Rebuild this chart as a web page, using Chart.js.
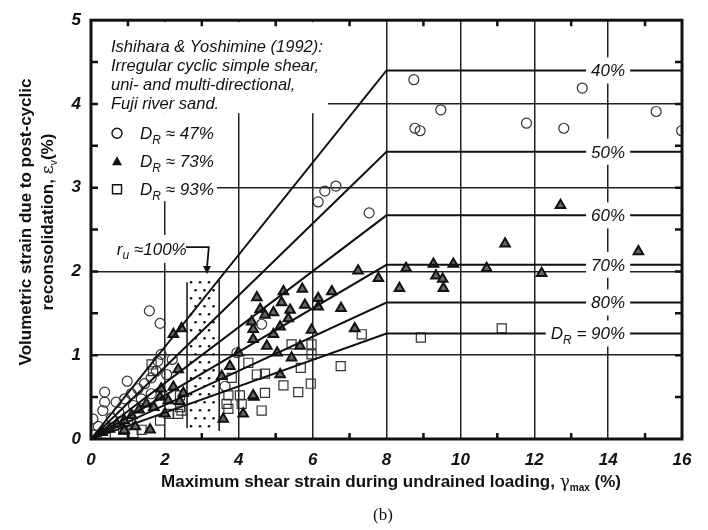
<!DOCTYPE html>
<html>
<head>
<meta charset="utf-8">
<script src="https://cdn.jsdelivr.net/npm/chart.js@4.4.1/dist/chart.umd.min.js"></script>
<style>body{margin:0;background:#fff}</style>
</head>
<body>
<canvas id="strainChart" width="708" height="530"></canvas>
<script>
// ---- data ----
// D_R ~ 47% (open circles)
const dr47 = [
    [8.74,4.29],[9.47,3.93],[8.77,3.71],[8.91,3.68],[11.79,3.77],[12.80,3.71],[13.30,4.19],
    [15.30,3.91],[15.99,3.68],[6.15,2.83],[6.33,2.96],[6.63,3.02],[7.53,2.70],
    [1.58,1.53],[1.87,1.38],[4.62,1.37],[3.63,0.63],[3.95,1.03],
    [0.98,0.69],[0.37,0.56],[0.37,0.44],[0.32,0.34],[0.68,0.44],[0.05,0.24],[1.90,1.01],
    [1.77,0.81],[1.63,0.73],[1.45,0.66],[1.27,0.60],[1.09,0.54],[0.91,0.48],[1.36,0.48],
    [1.63,0.54],[1.81,0.93],[2.05,0.77],[0.20,0.15],[0.55,0.25],[0.75,0.32],[1.15,0.40],
    [2.20,0.95],[0.10,0.05]
];
// D_R ~ 73% (triangles)
const dr73 = [
    [12.71,2.79],[11.21,2.33],[14.82,2.24],[7.23,2.01],[7.78,1.92],[8.53,2.04],[8.35,1.80],
    [9.27,2.09],[9.34,1.95],[9.52,1.91],[9.54,1.80],[9.81,2.09],[10.71,2.04],[12.20,1.98],
    [6.77,1.56],[7.14,1.32],[6.52,1.76],
    [4.49,1.69],[5.21,1.76],[5.72,1.79],[5.16,1.63],[4.58,1.55],[4.71,1.48],[4.94,1.51],
    [5.39,1.54],[5.79,1.60],[6.15,1.68],[6.15,1.58],[5.34,1.44],[5.12,1.34],[4.39,1.31],
    [4.39,1.19],[4.94,1.25],[5.97,1.30],[4.76,1.11],[5.66,1.11],[5.04,1.03],[5.43,0.97],
    [5.12,0.77],[4.41,0.50],[4.35,1.40],[3.99,1.03],[3.76,0.87],[3.54,0.75],[4.39,0.52],
    [4.12,0.30],[3.58,0.24],[2.23,1.25],[2.45,1.32],[2.36,0.83],[2.23,0.62],[2.09,0.46],
    [1.87,0.50],[1.60,0.11],[0.30,0.08],[0.50,0.12],[0.70,0.18],[0.90,0.22],[1.10,0.28],
    [1.30,0.35],[1.50,0.42],[1.70,0.38],[2.00,0.30],[1.20,0.15],[0.90,0.10],[2.50,0.55],
    [2.40,0.45],[1.90,0.60]
];
// D_R ~ 93% (open squares)
const dr93 = [
    [7.33,1.25],[8.93,1.21],[11.12,1.32],[6.76,0.87],[5.43,1.13],[5.97,1.13],[5.97,1.01],
    [4.49,0.77],[4.71,0.78],[5.68,0.85],[5.21,0.64],[5.61,0.56],[5.95,0.66],[4.71,0.55],
    [4.62,0.34],[4.26,0.91],[3.81,0.73],[3.72,0.52],[4.03,0.52],[3.72,0.36],[4.08,0.42],
    [3.67,0.42],[2.41,0.52],[2.45,0.34],[1.64,0.89],[1.68,0.81],[1.87,0.22],[1.37,0.11],
    [1.15,0.07],[0.87,0.11],[2.36,0.30],[2.41,0.38],[0.40,0.05],[1.00,0.20],[2.10,0.30]
];

// design curves: linear to gamma = 8%, then flat
const curveKnee = 8;
const curvePlateau = [4.40, 3.43, 2.67, 2.08, 1.63, 1.26];
const curveNames = ['40%', '50%', '60%', '70%', '80%', '90%'];

// r_u ~ 100% band (gamma range, eps range)
const bandX = [2.6, 3.47];
const bandY = [0.13, 1.92];

const xTicks = [0, 2, 4, 6, 8, 10, 12, 14, 16];
const yTicks = [0, 1, 2, 3, 4, 5];

const SANS = '"Liberation Sans", Arial, sans-serif';

function toPts(arr) {
    return arr.map(p => ({ x: p[0], y: p[1] }));
}

// draw a run of text pieces (for subscripts)
function richText(ctx, parts, x, y, align) {
    let w = 0;
    parts.forEach(p => { ctx.font = p.font; p.w = ctx.measureText(p.t).width; w += p.w; });
    let cx = align === 'center' ? x - w / 2 : align === 'right' ? x - w : x;
    ctx.textAlign = 'left';
    parts.forEach(p => { ctx.font = p.font; ctx.fillText(p.t, cx, y + (p.dy || 0)); cx += p.w; });
    return w;
}

const datasets = [];
curvePlateau.forEach((v, i) => {
    datasets.push({
        label: curveNames[i],
        data: [{ x: 0, y: 0 }, { x: curveKnee, y: v }, { x: 16, y: v }],
        showLine: true,
        borderColor: '#111',
        borderWidth: 2,
        pointRadius: 0,
        order: 1
    });
});
datasets.push({
    label: 'DR 47%', data: toPts(dr47), pointStyle: 'circle', pointRadius: 5,
    borderColor: '#333', borderWidth: 1.2, backgroundColor: 'rgba(0,0,0,0)', order: 2
});
datasets.push({
    label: 'DR 73%', data: toPts(dr73), pointStyle: 'triangle', pointRadius: 5.5,
    borderColor: '#111', borderWidth: 2, backgroundColor: '#666', order: 2
});
datasets.push({
    label: 'DR 93%', data: toPts(dr93), pointStyle: 'rect', pointRadius: 6.4,
    borderColor: '#333', borderWidth: 1.2, backgroundColor: 'rgba(0,0,0,0)', order: 2
});

const overlay = {
    id: 'overlay',
    beforeDatasetsDraw(chart) {
        const { ctx, chartArea: a, scales: { x, y } } = chart;
        ctx.save();
        // white panel behind the note and legend
        ctx.fillStyle = '#fff';
        ctx.fillRect(a.left + 1, a.top + 2, 236, 91);
        ctx.fillRect(a.left + 1, a.top + 93, 125, 88);
        ctx.fillRect(a.left + 21, y.getPixelForValue(2.27) - 14, 73, 28);

        // stippled band
        const bx0 = x.getPixelForValue(bandX[0]), bx1 = x.getPixelForValue(bandX[1]);
        const by0 = y.getPixelForValue(bandY[1]), by1 = y.getPixelForValue(bandY[0]);
        ctx.strokeStyle = '#111';
        ctx.lineWidth = 1.5;
        ctx.beginPath();
        ctx.moveTo(bx0, by0 + 4); ctx.lineTo(bx0, by1);
        ctx.moveTo(bx1, by0); ctx.lineTo(bx1, by1 + 3);
        ctx.stroke();
        ctx.fillStyle = '#111';
        let row = 0;
        for (let py = by0 + 4; py < by1; py += 8, row++) {
            for (let px = bx0 + 4 + (row % 2) * 4.5; px < bx1 - 2; px += 9) {
                ctx.beginPath();
                ctx.arc(px, py, 1.3, 0, Math.PI * 2);
                ctx.fill();
            }
        }

        // arrow from the r_u label
        const ax0 = x.getPixelForValue(2.57), ax1 = x.getPixelForValue(3.19), ax2 = x.getPixelForValue(3.14);
        const ay0 = y.getPixelForValue(2.29), ay1 = y.getPixelForValue(1.97);
        ctx.lineWidth = 1.8;
        ctx.beginPath();
        ctx.moveTo(ax0, ay0); ctx.lineTo(ax1, ay0); ctx.lineTo(ax2, ay1 - 6);
        ctx.stroke();
        ctx.beginPath();
        ctx.moveTo(ax2 - 4, ay1 - 8); ctx.lineTo(ax2 + 4, ay1 - 8); ctx.lineTo(ax2, ay1);
        ctx.closePath();
        ctx.fill();
        ctx.restore();
    },
    afterDatasetsDraw(chart) {
        const { ctx, scales: { x, y } } = chart;
        ctx.save();
        ctx.textBaseline = 'alphabetic';
        const rx = x.getPixelForValue(14) + 17;
        curvePlateau.forEach((v, i) => {
            const py = y.getPixelForValue(v);
            const parts = i === 5
                ? [{ t: 'D', font: 'italic 17px ' + SANS }, { t: 'R', font: 'italic 12px ' + SANS, dy: 5 },
                   { t: ' = ' + curveNames[i], font: 'italic 17px ' + SANS }]
                : [{ t: curveNames[i], font: 'italic 17px ' + SANS }];
            let w = 0;
            parts.forEach(p => { ctx.font = p.font; w += ctx.measureText(p.t).width; });
            ctx.fillStyle = '#fff';
            ctx.fillRect(rx - w - 5, py - 13, w + 10, 26);
            ctx.fillStyle = '#111';
            richText(ctx, parts, rx, py + 6, 'right');
        });
        // r_u label
        richText(ctx, [
            { t: 'r', font: 'italic 17px ' + SANS },
            { t: 'u', font: 'italic 12px ' + SANS, dy: 4 },
            { t: ' \u2248100%', font: 'italic 17px ' + SANS }
        ], x.getPixelForValue(0.7), y.getPixelForValue(2.27) + 6, 'left');
        ctx.restore();
    },
    afterDraw(chart) {
        const { ctx, chartArea: a, scales: { x, y } } = chart;
        ctx.save();
        ctx.strokeStyle = '#111';
        // minor ticks
        ctx.lineWidth = 2.5;
        ctx.beginPath();
        for (let v = 1; v < 16; v += 2) {
            const px = x.getPixelForValue(v);
            ctx.moveTo(px, a.top); ctx.lineTo(px, a.top + 6);
            ctx.moveTo(px, a.bottom); ctx.lineTo(px, a.bottom - 6);
        }
        for (let v = 0.5; v < 5; v += 0.5) {
            const py = y.getPixelForValue(v);
            ctx.moveTo(a.left, py); ctx.lineTo(a.left + 7, py);
            ctx.moveTo(a.right, py); ctx.lineTo(a.right - 7, py);
        }
        ctx.stroke();
        // frame
        ctx.lineWidth = 3;
        ctx.strokeRect(a.left, a.top, a.right - a.left, a.bottom - a.top);

        // note
        ctx.fillStyle = '#111';
        ctx.textBaseline = 'middle';
        ctx.textAlign = 'left';
        ctx.font = 'italic 16.5px ' + SANS;
        const note = ['Ishihara & Yoshimine (1992):', 'Irregular cyclic simple shear,',
                      'uni- and multi-directional,', 'Fuji river sand.'];
        note.forEach((t, i) => ctx.fillText(t, a.left + 20, a.top + 27 + i * 19));

        // legend
        const names = ['47%', '73%', '93%'];
        const mx = a.left + 26;
        names.forEach((n, i) => {
            const my = a.top + 113 + i * 28;
            ctx.lineWidth = 1.4;
            ctx.beginPath();
            if (i === 0) {
                ctx.arc(mx, my, 5, 0, Math.PI * 2);
                ctx.stroke();
            } else if (i === 1) {
                ctx.moveTo(mx - 5, my + 4); ctx.lineTo(mx + 5, my + 4); ctx.lineTo(mx, my - 5);
                ctx.closePath();
                ctx.fill();
            } else {
                ctx.rect(mx - 4.5, my - 4.5, 9, 9);
                ctx.stroke();
            }
            ctx.textBaseline = 'alphabetic';
            richText(ctx, [
                { t: 'D', font: 'italic 17px ' + SANS },
                { t: 'R', font: 'italic 12px ' + SANS, dy: 5 },
                { t: ' \u2248 ' + n, font: 'italic 17px ' + SANS }
            ], a.left + 49, my + 6, 'left');
        });

        // axis titles
        ctx.textBaseline = 'alphabetic';
        richText(ctx, [
            { t: 'Maximum shear strain during undrained loading, ', font: 'bold 17px ' + SANS },
            { t: '\u03b3', font: '17px "DejaVu Serif", serif' },
            { t: 'max', font: 'bold 10px ' + SANS, dy: 4 },
            { t: ' (%)', font: 'bold 17px ' + SANS }
        ], 391, 487, 'center');

        ctx.save();
        ctx.rotate(-Math.PI / 2);
        ctx.font = 'bold 17px ' + SANS;
        ctx.textAlign = 'center';
        ctx.fillText('Volumetric strain due to post-cyclic', -222, 31);
        richText(ctx, [
            { t: 'reconsolidation, ', font: 'bold 17px ' + SANS },
            { t: '\u03b5', font: '17px "DejaVu Serif", serif' },
            { t: 'v', font: '11px ' + SANS, dy: 4 },
            { t: '(%)', font: 'bold 17px ' + SANS }
        ], -222, 53, 'center');
        ctx.restore();

        ctx.textAlign = 'center';
        ctx.font = '17px "Liberation Serif", "Times New Roman", serif';
        ctx.fillText('(b)', 383, 520);
        ctx.restore();
    }
};

new Chart(document.getElementById('strainChart'), {
    type: 'scatter',
    data: { datasets: datasets },
    plugins: [overlay],
    options: {
        responsive: false,
        animation: false,
        layout: { padding: { left: 0, right: 26, top: 15, bottom: 0 } },
        plugins: { legend: { display: false }, tooltip: { enabled: false } },
        scales: {
            x: {
                min: 0, max: 16,
                afterBuildTicks: s => { s.ticks = xTicks.map(v => ({ value: v })); },
                afterFit: s => { s.height = 91; },
                grid: { color: '#222', lineWidth: 1.5, drawTicks: false },
                border: { display: false },
                ticks: { color: '#111', padding: 11, font: { family: SANS, size: 17, style: 'italic', weight: 'bold' } }
            },
            y: {
                min: 0, max: 5,
                afterBuildTicks: s => { s.ticks = yTicks.map(v => ({ value: v })); },
                afterFit: s => { s.width = 91; },
                grid: { color: '#222', lineWidth: 1.5, drawTicks: false },
                border: { display: false },
                ticks: { color: '#111', padding: 10, font: { family: SANS, size: 17, style: 'italic', weight: 'bold' } }
            }
        }
    }
});
</script>
</body>
</html>
